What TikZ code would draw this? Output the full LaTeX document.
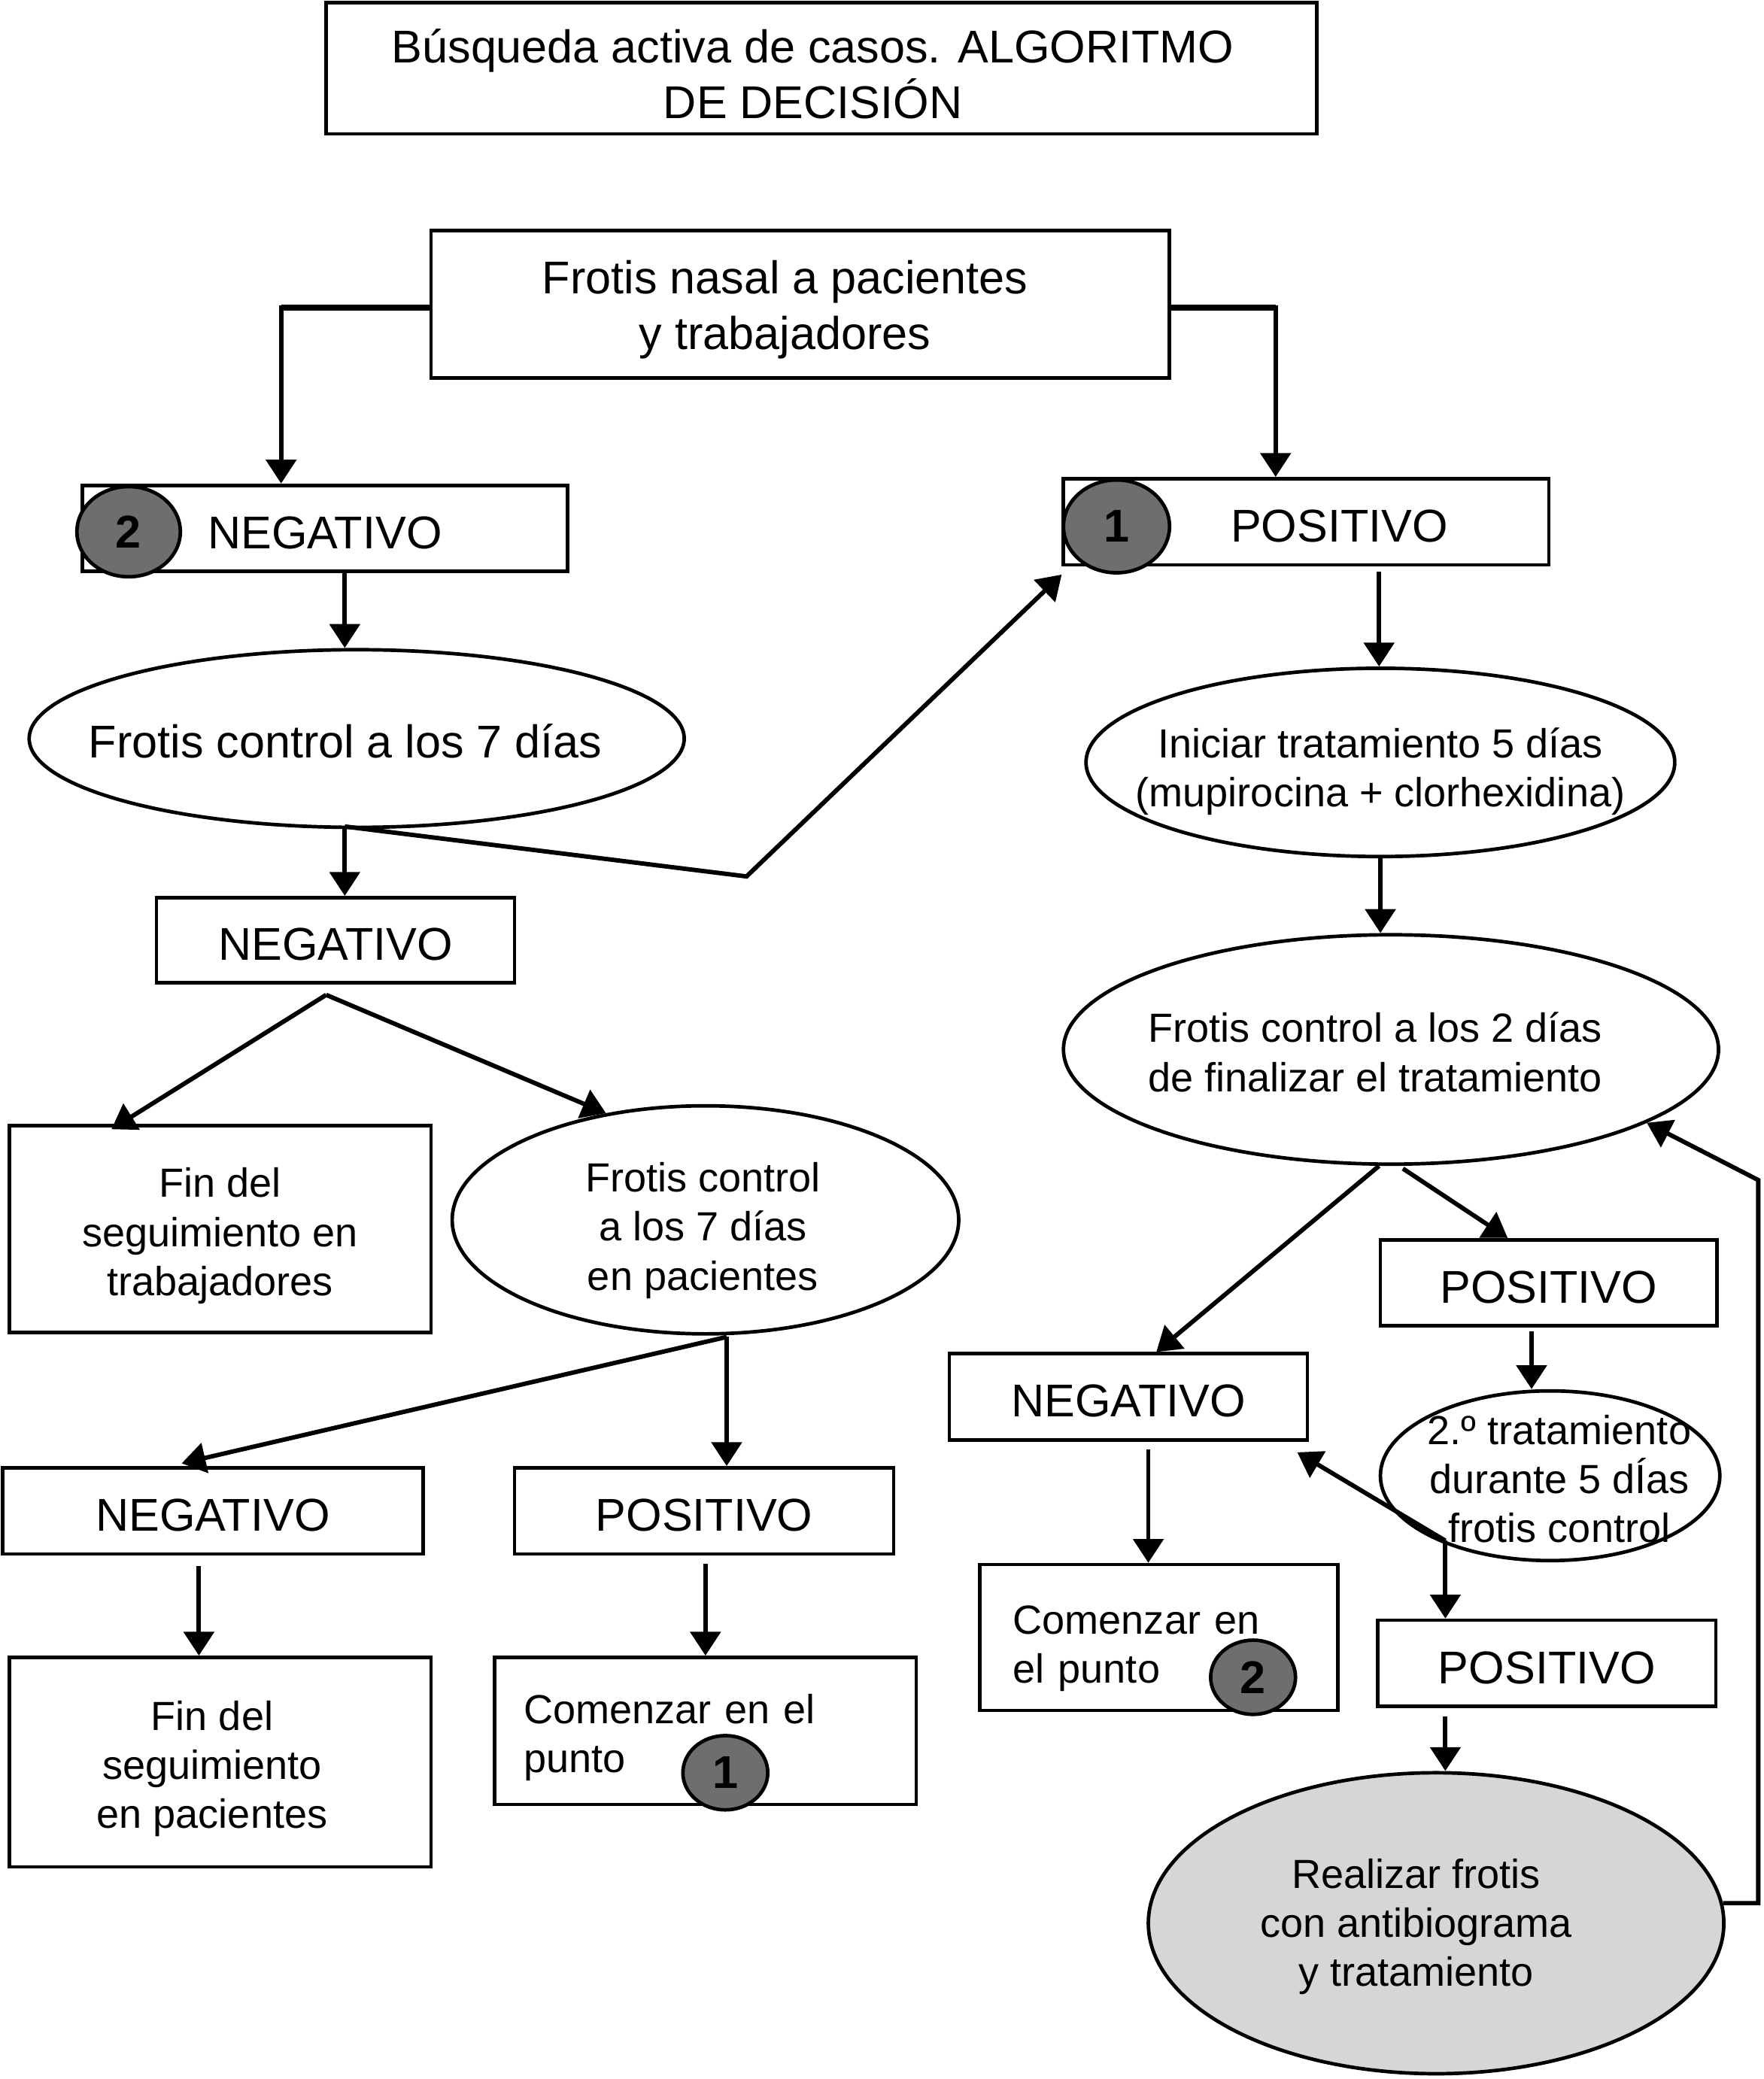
\documentclass[tikz,border=0pt]{standalone}
\usepackage{fontspec}
\setmainfont{Liberation Sans}
\usetikzlibrary{shapes.geometric,arrows.meta,calc}

\definecolor{markgray}{RGB}{110,110,110}
\definecolor{ovalgray}{RGB}{214,214,214}

\newcommand{\topdrop}[1]{\rule{0pt}{#1}}

\tikzset{every picture/.style={line width=2pt}}
\tikzset{
  bigtext/.style={font=\fontsize{26}{31.5}\selectfont},
  smalltext/.style={font=\fontsize{23}{27.75}\selectfont},
  textdrop/.style={execute at begin node={\rule{0pt}{#1}}},
  box/.style={draw,rectangle,inner sep=4pt,align=center,bigtext,textdrop=23.1pt},
  smallbox/.style={box,smalltext,textdrop=24.3pt},
  oval/.style={draw,ellipse,inner sep=0pt},
  ovaltext/.style={align=center,inner sep=0pt,smalltext},
  stepdot/.style={draw,ellipse,fill=markgray,inner sep=0pt,font=\fontsize{26}{30}\selectfont\bfseries},
  arr/.style={line width=2.5pt,-{Triangle[length=13.5pt,width=17pt]}},
}

\begin{document}
\begin{tikzpicture}[x=0.75pt,y=0.75pt,yscale=-1,xscale=1]
	%set diagram size
	\path[use as bounding box] (0,0) rectangle (1330,1568);

	%Shape: Rectangle [title]
	\node[box, minimum width=560.25pt, minimum height=74.25pt] (title) at (619.5,51.5) {\topdrop{25.5pt}Búsqueda activa de casos. ALGORITMO\hspace*{9.75pt}\\DE DECISIÓN\hspace*{9.75pt}};
	%Shape: Rectangle [nasal]
	\node[box, minimum width=417.75pt, minimum height=83.25pt] (nasal) at (603.5,229.5) {\topdrop{25pt}Frotis nasal a pacientes\hspace*{17.25pt}\\y trabajadores\hspace*{17.25pt}};

	% left branch
	\node[box, minimum width=274.5pt, minimum height=48.75pt] (neg1) at (245,398.5) {NEGATIVO};
	\node[stepdot, minimum width=58.5pt, minimum height=51pt] (dot2a) at (97,401) {2};
	\node[oval, minimum width=370.5pt, minimum height=100.5pt] (ctrl7) at (269,557) {};
	\node[ovaltext, bigtext] (ctrl7txt) at (260.5,559) {Frotis control a los 7 días};
	\node[box, minimum width=202.5pt, minimum height=48pt] (neg2) at (253,709) {NEGATIVO};
	\node[smallbox, minimum width=238.5pt, minimum height=117pt] (finT) at (166,927) {\topdrop{24.3pt}Fin del\\seguimiento en\\trabajadores};
	\node[oval, minimum width=286.5pt, minimum height=129pt] (ctrlP) at (532,920) {};
	\node[ovaltext] (ctrlPtxt) at (530,928) {Frotis control\\a los 7 días\\en pacientes};
	\node[box, minimum width=237.75pt, minimum height=48.75pt] (neg3) at (160.5,1139.5) {NEGATIVO};
	\node[box, minimum width=214.5pt, minimum height=48.75pt] (pos2) at (531,1139.5) {POSITIVO};
	\node[smallbox, minimum width=238.5pt, minimum height=118.5pt] (finP) at (166,1329) {\topdrop{24.3pt}\hspace*{-9pt}Fin del\\\hspace*{-9pt}seguimiento\\\hspace*{-9pt}en pacientes};
	\node[smallbox, align=left, text width=205.5pt, inner xsep=16.5pt, minimum height=83.25pt] (start1) at (532,1305.5) {Comenzar en el\\punto};
	\node[stepdot, minimum width=48pt, minimum height=42pt] (dot1b) at (547,1337) {1};

	% right branch
	\node[box, minimum width=274.5pt, minimum height=48.75pt] (pos1) at (985,393.5) {\hspace*{37.5pt}POSITIVO};
	\node[stepdot, minimum width=60pt, minimum height=52.5pt] (dot1a) at (842,397) {1};
	\node[oval, minimum width=333pt, minimum height=106.5pt] (treat) at (1041,575) {};
	\node[ovaltext] (treattxt) at (1041,582) {Iniciar tratamiento 5 días\\(mupirocina + clorhexidina)};
	\node[oval, minimum width=370.5pt, minimum height=129.75pt] (ctrl2) at (1049,791.5) {};
	\node[ovaltext] (ctrl2txt) at (1037,793.5) {Frotis control a los 2 días\\de finalizar el tratamiento};
	\node[box, minimum width=190.5pt, minimum height=48.75pt] (pos3) at (1168,967.5) {POSITIVO};
	\node[box, minimum width=202.5pt, minimum height=48.75pt] (neg4) at (851,1053.5) {NEGATIVO};
	\node[oval, minimum width=192pt, minimum height=96pt] (treat2) at (1169,1113) {};
	\node[ovaltext] (treat2txt) at (1176,1115.5) {2.º tratamiento\\durante 5 dÍas\\frotis control};
	\node[box, minimum width=191.25pt, minimum height=48.75pt] (pos4) at (1166.5,1254.5) {POSITIVO};
	\node[smallbox, align=left, text width=165pt, inner xsep=18.75pt, minimum height=82.5pt, textdrop=28.5pt] (start2) at (874,1235) {Comenzar en\\el punto};
	\node[stepdot, minimum width=48pt, minimum height=42pt] (dot2b) at (945,1265) {2};
	\node[oval, fill=ovalgray, minimum width=325.5pt, minimum height=170.25pt] (swab) at (1083,1450.5) {};
	\node[ovaltext] (swabtxt) at (1068,1453) {Realizar frotis\\con antibiograma\\y tratamiento};

	%Straight Lines [left]
	\coordinate (nasalL) at ($(nasal.west)+(0,2.5)$);
	\coordinate (n1in) at ($(neg1.north)+(-33,0)$);
	\draw[arr] (nasalL) -| (n1in);
	\draw[line width=3.4pt] (nasalL) -- (nasalL -| n1in);
	\coordinate (n1out) at ($(neg1.south)+(15,0)$);
	\draw[arr] (n1out) -- (n1out |- ctrl7.north);
	\coordinate (c7out) at ($(ctrl7.south)+(-9,-2)$);
	\draw[arr] (c7out) -- (c7out |- neg2.north);
	\coordinate (c7bend) at (563,661);
	\draw[arr] (c7out) -- (c7bend) -- ($(pos1.south west)+(0,6)$);
	\coordinate (n2out) at ($(neg2.south)+(-7,8)$);
	\draw[arr] (n2out) -- ($(finT.north)+(-82,4)$);
	\draw[arr] (n2out) -- (ctrlP.133);
	\coordinate (cPout) at ($(ctrlP.south)+(16,1)$);
	\draw[arr] (cPout) -- (cPout |- pos2.north);
	\draw[arr] (cPout) -- ($(neg3.north)+(-23.5,-2)$);
	\coordinate (n3out) at ($(neg3.south)+(-10.5,8)$);
	\draw[arr] (n3out) -- (n3out |- finP.north);
	\coordinate (p2out) at ($(pos2.south)+(1,6)$);
	\draw[arr] (p2out) -- (p2out |- start1.north);

	%Straight Lines [right]
	\coordinate (nasalR) at ($(nasal.east)+(0,2.5)$);
	\coordinate (p1in) at ($(pos1.north)+(-23,0)$);
	\draw[arr] (nasalR) -| (p1in);
	\draw[line width=3.4pt] (nasalR) -- (nasalR -| p1in);
	\coordinate (p1out) at ($(pos1.south)+(55,4)$);
	\draw[arr] (p1out) -- (p1out |- treat.north);
	\draw[arr] (treat.south) -- (treat.south |- ctrl2.north);
	\coordinate (c2outL) at ($(ctrl2.south)+(-9,0)$);
	\coordinate (c2outR) at ($(ctrl2.south)+(9,2)$);
	\draw[arr] (c2outL) -- ($(neg4.north)+(21,0)$);
	\draw[arr] (c2outR) -- ($(pos3.north)+(-31,0)$);
	\coordinate (p3out) at ($(pos3.south)+(-13,3)$);
	\draw[arr] (p3out) -- (p3out |- treat2.north);
	\coordinate (t2out) at (1090,1162);
	\draw[arr] (t2out) -- (t2out |- pos4.north);
	\draw[arr] (t2out) -- ($(neg4.south east)+(-9,8)$);
	\coordinate (p4out) at ($(pos4.south)+(-76.5,6)$);
	\draw[arr] (p4out) -- (p4out |- swab.north);
	\coordinate (n4out) at ($(neg4.south)+(15,6)$);
	\draw[arr] (n4out) -- (n4out |- start2.north);
	%Straight Lines [loop back]
	\coordinate (loopup) at (1326,890);
	\draw[arr] (swab.4) -| (loopup) -- (ctrl2.-16);

\end{tikzpicture}
\end{document}
